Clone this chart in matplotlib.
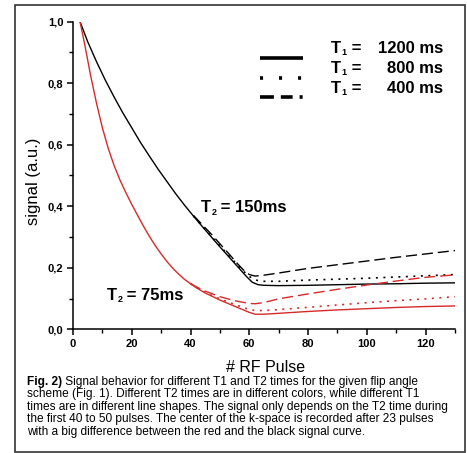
import matplotlib
matplotlib.use("Agg")
import matplotlib.pyplot as plt
from matplotlib.lines import Line2D
from matplotlib.patches import Rectangle
from matplotlib.ticker import MultipleLocator, FuncFormatter

plt.rcParams['font.family'] = ['Liberation Sans', 'DejaVu Sans']
plt.rcParams['lines.scale_dashes'] = False

W, H = 467, 453

# values (pulse number, signal)
x_black_solid = [2.4, 5, 8, 11, 14, 17, 20, 23, 26, 29, 32, 35, 38, 41, 44, 47, 50, 53, 56, 59, 61, 63, 65, 70, 80, 90, 100, 110, 120, 130]
y_black_solid = [1.0, 0.935, 0.87, 0.81, 0.755, 0.703, 0.655, 0.607, 0.563, 0.52, 0.48, 0.44, 0.403, 0.368, 0.334, 0.301, 0.268, 0.236, 0.204, 0.172, 0.153, 0.145, 0.143, 0.142, 0.143, 0.145, 0.147, 0.148, 0.150, 0.151]

x_black_dot = [41, 44, 47, 50, 53, 56, 59, 61, 63, 65, 70, 80, 90, 100, 110, 120, 130]
y_black_dot = [0.368, 0.335, 0.303, 0.271, 0.24, 0.209, 0.18, 0.165, 0.158, 0.156, 0.156, 0.160, 0.163, 0.166, 0.170, 0.174, 0.178]

x_black_dash = [41, 44, 47, 50, 53, 56, 58, 60, 62, 65, 70, 80, 90, 100, 110, 120, 130]
y_black_dash = [0.37, 0.34, 0.31, 0.278, 0.246, 0.213, 0.193, 0.178, 0.173, 0.176, 0.183, 0.198, 0.210, 0.222, 0.234, 0.245, 0.256]

x_red_solid = [2.4, 4, 6, 8, 10, 12, 14, 16, 18, 20, 22, 24, 26, 28, 30, 32, 34, 36, 38, 40, 42, 45, 50, 55, 60, 62, 65, 70, 80, 90, 100, 110, 120, 130]
y_red_solid = [1.0, 0.925, 0.825, 0.735, 0.655, 0.588, 0.532, 0.485, 0.444, 0.406, 0.37, 0.335, 0.302, 0.272, 0.245, 0.22, 0.198, 0.179, 0.162, 0.148, 0.135, 0.118, 0.095, 0.075, 0.055, 0.049, 0.049, 0.052, 0.058, 0.063, 0.067, 0.071, 0.074, 0.076]

x_red_dot = [40, 42, 45, 50, 55, 60, 62, 65, 70, 80, 90, 100, 110, 120, 130]
y_red_dot = [0.148, 0.136, 0.12, 0.099, 0.081, 0.064, 0.061, 0.061, 0.064, 0.0715, 0.079, 0.0865, 0.093, 0.099, 0.106]

x_red_dash = [40, 42, 45, 50, 55, 60, 62, 65, 70, 80, 90, 100, 110, 120, 130]
y_red_dash = [0.149, 0.138, 0.124, 0.106, 0.093, 0.084, 0.083, 0.087, 0.099, 0.115, 0.13, 0.144, 0.157, 0.169, 0.177]

red = '#d62a2a'
dot = (0, (1.4, 4))
dash = (0, (8, 3.5))

fig = plt.figure(figsize=(W / 100, H / 100), dpi=100)
ax = fig.add_axes([73 / W, 1 - 329.3 / H, (455 - 73) / W, (329.3 - 21.7) / H])

ax.plot(x_black_solid, y_black_solid, color='black', lw=1.0)
ax.plot(x_black_dot, y_black_dot, color='black', lw=1.2, linestyle=dot)
ax.plot(x_black_dash, y_black_dash, color='black', lw=1.0, linestyle=dash)
ax.plot(x_red_solid, y_red_solid, color=red, lw=1.0)
ax.plot(x_red_dot, y_red_dot, color=red, lw=1.2, linestyle=dot)
ax.plot(x_red_dash, y_red_dash, color=red, lw=1.0, linestyle=dash)

ax.set_xlim(0, 130)
ax.set_ylim(0, 1.0)
for s in ['top', 'right']:
    ax.spines[s].set_visible(False)
for s in ['left', 'bottom']:
    ax.spines[s].set_linewidth(1.1)
ax.xaxis.set_major_locator(MultipleLocator(20))
ax.xaxis.set_minor_locator(MultipleLocator(10))
ax.yaxis.set_major_locator(MultipleLocator(0.2))
ax.yaxis.set_minor_locator(MultipleLocator(0.1))
ax.yaxis.set_major_formatter(FuncFormatter(lambda v, p: f"{v:.1f}".replace('.', ',')))
ax.tick_params(which='major', direction='out', length=4, width=1.1, labelsize=8, pad=3)
ax.tick_params(which='minor', direction='out', length=3, width=1.0)
for lab in ax.get_xticklabels() + ax.get_yticklabels():
    lab.set_fontweight('bold')
ax.set_ylabel('signal (a.u.)', fontsize=12)
ax.yaxis.set_label_coords(-0.084, 0.482)
ax.set_xlabel('# RF Pulse', fontsize=11.5)
ax.xaxis.set_label_coords(0.505, -0.099)


def fx(px):
    return px / W


def fy(py):
    return 1 - py / H


def t_label(px, py, sub, rest):
    # bold "T" with a small subscript, then the rest of the label
    t = fig.text(fx(px), fy(py), 'T', fontsize=12, fontweight='bold', va='center')
    s = ax.annotate(sub, xy=(1, 0.2), xycoords=t, xytext=(0.3, 0), textcoords='offset points',
                    fontsize=6.5, fontweight='bold', va='center', ha='left')
    ax.annotate(rest, xy=(1, 0.5), xycoords=(s, t), va='center', ha='left',
                fontsize=12, fontweight='bold')


# curve labels
t_label(201, 208, '2', ' = 150ms')
t_label(107, 295, '2', ' = 75ms')

# legend
legend_rows = [('1200 ms', 48.3, 57.7, '-'),
               ('800 ms', 68.3, 77.7, (0, (2.2, 11.5))),
               ('400 ms', 88.3, 96.7, (0, (10, 5, 8.5, 5, 2.2, 8)))]
for value, ty, ly, ls in legend_rows:
    fig.add_artist(Line2D([fx(260), fx(303)], [fy(ly), fy(ly)], color='black', lw=2.6,
                          linestyle=ls, solid_capstyle='butt', dash_capstyle='butt'))
    t_label(331, ty, '1', ' =')
    fig.text(fx(443), fy(ty), value, fontsize=12, fontweight='bold', va='center', ha='right')

# caption
cap_size = 8.55
t0 = fig.text(fx(27), fy(381.5), 'Fig. 2)', fontsize=cap_size, fontweight='bold', va='center')
ax.annotate(' Signal behavior for different T1 and T2 times for the given flip angle',
            xy=(1, 0.5), xycoords=t0, va='center', fontsize=cap_size)
caption_lines = [
    'scheme (Fig. 1). Different T2 times are in different colors, while different T1',
    'times are in different line shapes. The signal only depends on the T2 time during',
    'the first 40 to 50 pulses. The center of the k-space is recorded after 23 pulses',
    'with a big difference between the red and the black signal curve.',
]
for i, line in enumerate(caption_lines):
    fig.text(fx(27), fy(394.2 + i * 12.6), line, fontsize=cap_size, va='center')

# outer frame
fig.add_artist(Rectangle((fx(15), fy(452)), fx(465) - fx(15), fy(5) - fy(452),
                         fill=False, edgecolor='#333333', lw=1.2, transform=fig.transFigure))

fig.savefig('out.png', dpi=100)
